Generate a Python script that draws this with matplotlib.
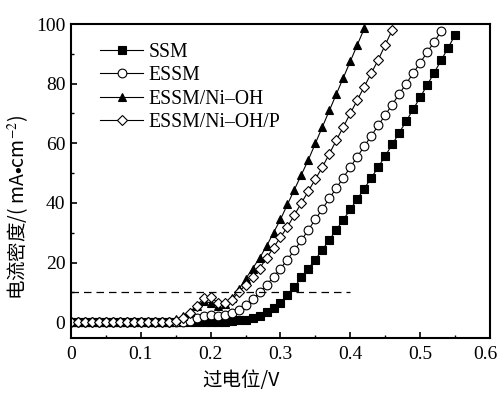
import numpy as np
import matplotlib
matplotlib.use("Agg")
import matplotlib.pyplot as plt
from matplotlib.ticker import MultipleLocator

plt.rcParams['font.family'] = ['Liberation Serif', 'Noto Sans CJK SC']
plt.rcParams['mathtext.fontset'] = 'stix'

# ---- data (overpotential V, current density mA/cm^2) ----
v = np.round(np.arange(0, 0.5501, 0.01), 2)

ssm = [0]*21 + [0.1, 0.2, 0.4, 0.6, 0.9, 1.4, 2.2, 3.3, 4.8, 6.6, 9.0, 11.8, 15.0,
                18.0, 21.0, 24.3, 27.6, 31.0, 34.4, 37.8, 41.3, 44.8, 48.4, 52.0,
                55.8, 59.6, 63.5, 67.4, 71.4, 75.4, 79.5, 83.6, 87.8, 92.0, 96.3]

essm = [0]*17 + [0.5, 1.3, 2.0, 2.3, 2.2, 2.3, 3.0, 4.2, 5.8, 7.7, 10.0, 12.5, 15.2,
                 18.0, 21.0, 24.2, 27.5, 31.0, 34.5, 38.0, 41.5, 45.0, 48.5, 52.0,
                 55.5, 59.0, 62.5, 66.0, 69.5, 73.0, 76.5, 80.0, 83.5, 87.0, 90.5,
                 94.0, 97.5]

ni_oh = [0]*15 + [1.0, 2.0, 3.5, 5.5, 7.0, 6.5, 5.5, 6.0, 8.0, 11.0, 14.5, 18.0,
                  21.5, 25.5, 30.0, 34.5, 39.5, 44.5, 49.5, 54.5, 60.0, 65.5, 71.0,
                  76.5, 82.0, 87.5, 93.0, 98.5]

ni_oh_p = [0]*15 + [0.5, 1.5, 3.0, 5.5, 8.0, 8.5, 6.5, 6.3, 7.5, 10.0, 12.5, 15.0,
                    18.0, 21.5, 25.0, 28.5, 32.0, 36.0, 40.0, 44.0, 48.0, 52.0,
                    56.5, 61.0, 65.5, 70.0, 74.5, 79.0, 83.5, 88.0, 93.0, 98.0]

labels = ['SSM', 'ESSM', 'ESSM/Ni\u2013OH', 'ESSM/Ni\u2013OH/P']
xtick_labels = ['0', '0.1', '0.2', '0.3', '0.4', '0.5', '0.6']
ref_level = 10
ref_end = 0.4

fig = plt.figure(figsize=(5.01, 4.03), dpi=100)
ax = fig.add_axes([0.1417, 0.1613, 0.8363, 0.7791])

series = [ssm, essm, ni_oh, ni_oh_p]
styles = [dict(marker='s', mfc='black'),
          dict(marker='o', mfc='white'),
          dict(marker='^', mfc='black'),
          dict(marker='D', mfc='white', markersize=5.4)]
for s, lab, st in zip(series, labels, styles):
    kw = dict(color='black', lw=0.8, mec='black', mew=0.8, markersize=6.3)
    kw.update(st)
    ax.plot(v[:len(s)], s, label=lab, **kw)

ax.plot([0, ref_end], [ref_level, ref_level], ls=(0, (6, 4)), color='black', lw=0.9)

ax.set_xlim(0, 0.6)
ax.set_ylim(-5.3, 100)
ax.xaxis.set_minor_locator(MultipleLocator(0.05))
ax.yaxis.set_major_locator(MultipleLocator(20))
ax.yaxis.set_minor_locator(MultipleLocator(10))
ax.set_xticks([float(t) for t in xtick_labels])
ax.set_xticklabels(xtick_labels)
ax.tick_params(which='both', direction='in', top=False, right=False, labelsize=14)
ax.tick_params(which='major', length=4, width=1.2)
ax.tick_params(which='minor', length=2.5, width=1.0)
ax.tick_params(axis='x', pad=6)
ax.tick_params(axis='y', pad=4)
last = ax.get_xticklabels()[-1]
last.set_horizontalalignment('right')
last.set_x(0.6)
import matplotlib.transforms as mtrans
last.set_transform(last.get_transform() + mtrans.ScaledTranslation(8/100, 0, fig.dpi_scale_trans))
for sp in ax.spines.values():
    sp.set_linewidth(1.5)

leg = ax.legend(loc='upper left', bbox_to_anchor=(0.05, 0.965), frameon=False,
                fontsize=14.2, handlelength=2.2, handletextpad=0.25,
                labelspacing=0.22, borderaxespad=0)

fig.text(0.48, 0.055, '过电位/V', ha='center', va='center', fontsize=14,
         family=['Noto Sans CJK SC', 'Liberation Serif'])
fig.text(0.036, 0.485, '电流密度/( mA$\\bullet$cm$^{-2}$)', ha='center', va='center',
         rotation=90, fontsize=14, family=['Noto Sans CJK SC', 'Liberation Serif'])

fig.savefig('out.png', dpi=100)
